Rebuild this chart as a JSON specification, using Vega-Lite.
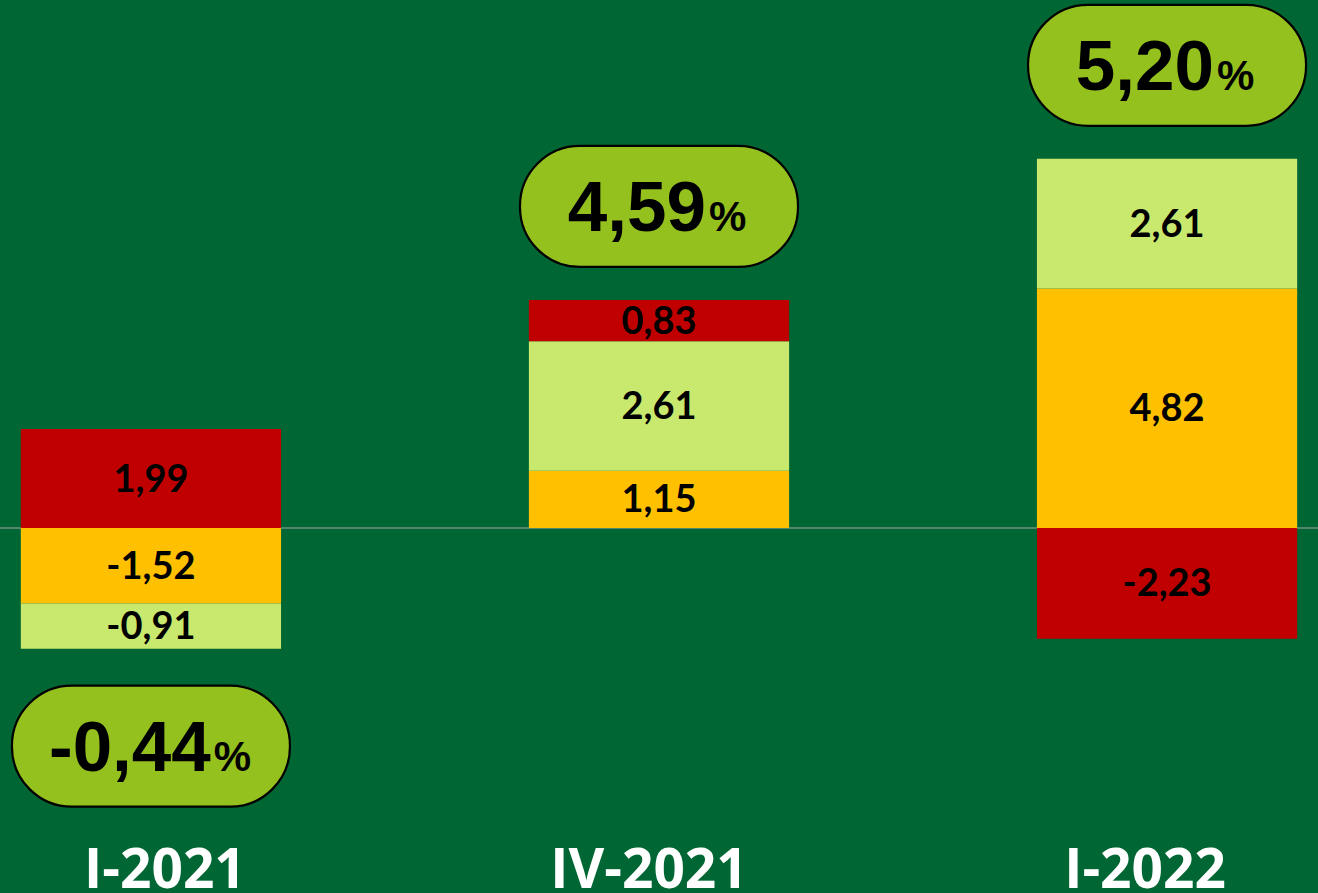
{
  "$schema": "https://vega.github.io/schema/vega-lite/v6.json",
  "width": 1318,
  "height": 893,
  "autosize": {"type": "none"},
  "padding": 0,
  "background": "#006633",
  "config": {"view": {"stroke": null}},
  "data": {
    "values": [
      {"period": "I-2021", "serie": "A", "value": -1.52},
      {"period": "I-2021", "serie": "B", "value": -0.91},
      {"period": "I-2021", "serie": "C", "value": 1.99},
      {"period": "IV-2021", "serie": "A", "value": 1.15},
      {"period": "IV-2021", "serie": "B", "value": 2.61},
      {"period": "IV-2021", "serie": "C", "value": 0.83},
      {"period": "I-2022", "serie": "A", "value": 4.82},
      {"period": "I-2022", "serie": "B", "value": 2.61},
      {"period": "I-2022", "serie": "C", "value": -2.23}
    ]
  },
  "encoding": {
    "x": {
      "field": "period",
      "type": "nominal",
      "sort": ["I-2021", "IV-2021", "I-2022"],
      "scale": {"paddingInner": 0.4878, "paddingOuter": 0.041},
      "axis": {
        "title": null,
        "domain": false,
        "ticks": false,
        "grid": false,
        "labelAngle": 0,
        "labelLimit": 0,
        "labelFontSize": 55,
        "labelFont": "Open Sans",
        "labelFontWeight": "bold",
        "labelColor": "#FFFFFF",
        "labelPadding": 0,
        "labelBaseline": "alphabetic",
        "labelOffset": {"signal": "datum.value === 'I-2021' ? 14 : datum.value === 'IV-2021' ? -10 : -22"},
        "offset": -6
      }
    }
  },
  "layer": [
    {
      "data": {"values": [{"zero": 0}]},
      "mark": {"type": "rule", "color": "#A6A6A6", "strokeWidth": 1},
      "encoding": {
        "x": {"value": 0},
        "x2": {"value": 1318},
        "y": {"field": "zero", "type": "quantitative", "scale": {"domain": [-7.344, 10.624], "nice": false, "zero": false}, "axis": null}
      }
    },
    {
      "transform": [
        {"stack": "value", "groupby": ["period"], "sort": [{"field": "serie", "order": "ascending"}], "as": ["v0", "v1"]}
      ],
      "mark": {"type": "bar"},
      "encoding": {
        "y": {"field": "v0", "type": "quantitative", "scale": {"domain": [-7.344, 10.624], "nice": false, "zero": false}, "axis": null},
        "y2": {"field": "v1"},
        "color": {
          "field": "serie",
          "type": "nominal",
          "scale": {"domain": ["A", "B", "C"], "range": ["#FFC000", "#C8E86E", "#C00000"]},
          "legend": null
        }
      }
    },
    {
      "transform": [
        {"stack": "value", "groupby": ["period"], "sort": [{"field": "serie", "order": "ascending"}], "as": ["v0", "v1"]},
        {"calculate": "(datum.v0 + datum.v1) / 2", "as": "mid"},
        {"calculate": "replace(replace(format(datum.value, '.2f'), '.', ','), '\u2212', '-')", "as": "lbl"}
      ],
      "mark": {"type": "text", "font": "Lato", "fontWeight": "bold", "fontSize": 38, "color": "#000000", "baseline": "middle", "dy": 2},
      "encoding": {
        "y": {"field": "mid", "type": "quantitative", "scale": {"domain": [-7.344, 10.624], "nice": false, "zero": false}, "axis": null},
        "text": {"field": "lbl", "type": "nominal"}
      }
    },
    {
      "transform": [
        {"stack": "value", "groupby": ["period"], "sort": [{"field": "serie", "order": "ascending"}], "as": ["v0", "v1"]},
        {"aggregate": [{"op": "sum", "field": "value", "as": "total"}, {"op": "max", "field": "v1", "as": "top"}, {"op": "min", "field": "v1", "as": "bot"}], "groupby": ["period"]},
        {"calculate": "datum.total >= 0 ? datum.top + 1.88 : datum.bot - 1.96", "as": "c"},
        {"calculate": "datum.c + 1.2173", "as": "p1"},
        {"calculate": "datum.c - 1.2173", "as": "p2"}
      ],
      "mark": {"type": "bar", "width": 278, "cornerRadius": 60, "fill": "#95C11F", "stroke": "#000000", "strokeWidth": 2.2},
      "encoding": {
        "y": {"field": "p1", "type": "quantitative", "scale": {"domain": [-7.344, 10.624], "nice": false, "zero": false}, "axis": null},
        "y2": {"field": "p2"}
      }
    },
    {
      "transform": [
        {"stack": "value", "groupby": ["period"], "sort": [{"field": "serie", "order": "ascending"}], "as": ["v0", "v1"]},
        {"aggregate": [{"op": "sum", "field": "value", "as": "total"}, {"op": "max", "field": "v1", "as": "top"}, {"op": "min", "field": "v1", "as": "bot"}], "groupby": ["period"]},
        {"calculate": "datum.total >= 0 ? datum.top + 1.88 : datum.bot - 1.96", "as": "c"},
        {"calculate": "replace(replace(format(datum.total, '.2f'), '.', ','), '\u2212', '-')", "as": "lbl"},
        {"calculate": "130 + 47 + (length(datum.lbl) - 4) * 13", "as": "off"}
      ],
      "mark": {"type": "text", "font": "Liberation Sans", "fontWeight": "bold", "fontSize": 71, "color": "#000000", "align": "right", "baseline": "alphabetic", "dy": 25},
      "encoding": {
        "y": {"field": "c", "type": "quantitative", "scale": {"domain": [-7.344, 10.624], "nice": false, "zero": false}, "axis": null},
        "xOffset": {"field": "off", "type": "quantitative", "scale": null},
        "text": {"field": "lbl", "type": "nominal"}
      }
    },
    {
      "transform": [
        {"stack": "value", "groupby": ["period"], "sort": [{"field": "serie", "order": "ascending"}], "as": ["v0", "v1"]},
        {"aggregate": [{"op": "sum", "field": "value", "as": "total"}, {"op": "max", "field": "v1", "as": "top"}, {"op": "min", "field": "v1", "as": "bot"}], "groupby": ["period"]},
        {"calculate": "datum.total >= 0 ? datum.top + 1.88 : datum.bot - 1.96", "as": "c"},
        {"calculate": "replace(replace(format(datum.total, '.2f'), '.', ','), '\u2212', '-')", "as": "lbl"},
        {"calculate": "130 + 50 + (length(datum.lbl) - 4) * 13", "as": "off"}
      ],
      "mark": {"type": "text", "font": "Liberation Sans", "fontWeight": "bold", "fontSize": 42, "color": "#000000", "align": "left", "baseline": "alphabetic", "dy": 25},
      "encoding": {
        "y": {"field": "c", "type": "quantitative", "scale": {"domain": [-7.344, 10.624], "nice": false, "zero": false}, "axis": null},
        "xOffset": {"field": "off", "type": "quantitative", "scale": null},
        "text": {"value": "%"}
      }
    }
  ]
}
